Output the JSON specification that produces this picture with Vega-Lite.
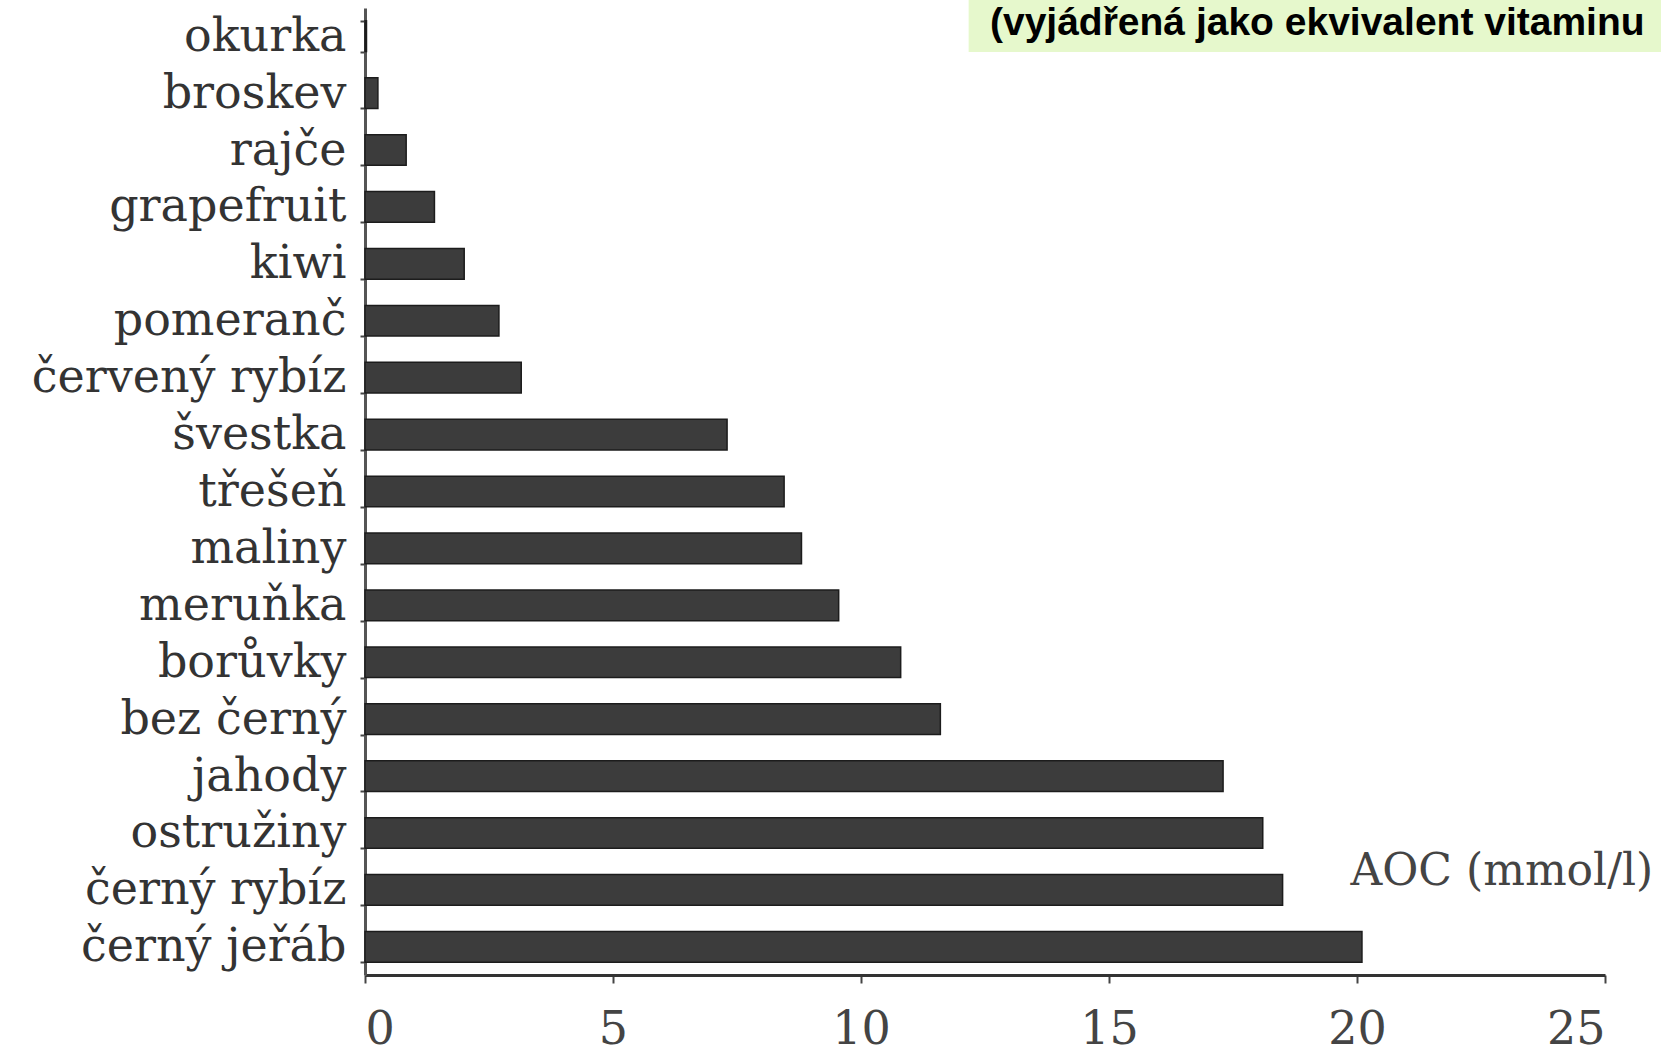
{
  "$schema": "https://vega.github.io/schema/vega-lite/v6.json",
  "autosize": {"type": "none"},
  "width": 1240,
  "height": 967,
  "padding": {"left": 365, "top": 8, "right": 56, "bottom": 78},
  "background": "white",
  "config": {"view": {"stroke": null}},
  "data": {
    "values": [
      {"plod": "okurka", "aoc": 0.03},
      {"plod": "broskev", "aoc": 0.26},
      {"plod": "rajče", "aoc": 0.83},
      {"plod": "grapefruit", "aoc": 1.4},
      {"plod": "kiwi", "aoc": 2.0},
      {"plod": "pomeranč", "aoc": 2.7},
      {"plod": "červený rybíz", "aoc": 3.15},
      {"plod": "švestka", "aoc": 7.3},
      {"plod": "třešeň", "aoc": 8.45},
      {"plod": "maliny", "aoc": 8.8},
      {"plod": "meruňka", "aoc": 9.55},
      {"plod": "borůvky", "aoc": 10.8},
      {"plod": "bez černý", "aoc": 11.6},
      {"plod": "jahody", "aoc": 17.3},
      {"plod": "ostružiny", "aoc": 18.1},
      {"plod": "černý rybíz", "aoc": 18.5},
      {"plod": "černý jeřáb", "aoc": 20.1}
    ]
  },
  "layer": [
    {
      "mark": {"type": "bar", "color": "#3c3c3c", "stroke": "#1c1c1c", "strokeWidth": 1.5},
      "encoding": {
        "y": {
          "field": "plod",
          "type": "nominal",
          "sort": null,
          "scale": {"paddingInner": 0.46, "paddingOuter": 0.225},
          "axis": {
            "title": null,
            "domainColor": "#555555",
            "domainWidth": 3,
            "ticks": true,
            "tickBand": "extent",
            "tickSize": 5,
            "tickWidth": 2,
            "tickColor": "#444444",
            "labelFont": "DejaVu Serif",
            "labelFontSize": 46,
            "labelColor": "#333333",
            "labelPadding": 14,
            "labelLimit": 600,
            "grid": false
          }
        },
        "x": {
          "field": "aoc",
          "type": "quantitative",
          "scale": {"domain": [0, 25], "nice": false},
          "axis": {
            "values": [0, 5, 10, 15, 20, 25],
            "grid": false,
            "domainColor": "#333333",
            "domainWidth": 3,
            "tickSize": 8,
            "tickWidth": 2,
            "tickColor": "#444444",
            "labelFont": "DejaVu Serif",
            "labelFontSize": 46,
            "labelColor": "#444444",
            "labelPadding": 24,
            "title": "AOC (mmol/l)",
            "titleFont": "DejaVu Serif",
            "titleFontSize": 44,
            "titleFontWeight": "normal",
            "titleColor": "#444444",
            "titleAlign": "left",
            "titleBaseline": "middle",
            "titleAnchor": "start",
            "titleX": 985,
            "titleY": -104
          }
        }
      }
    },
    {
      "data": {"values": [{"plod": "okurka", "x1": 12.17, "x2": 40}]},
      "mark": {"type": "bar", "color": "#e6f8cc", "clip": false, "height": {"band": 1.75}, "yOffset": -11},
      "encoding": {
        "y": {"field": "plod", "type": "nominal", "sort": null},
        "x": {"field": "x1", "type": "quantitative"},
        "x2": {"field": "x2"}
      }
    },
    {
      "data": {"values": [{"plod": "okurka", "x": 12.6, "t": "(vyjádřená jako ekvivalent vitaminu"}]},
      "mark": {"type": "text", "align": "left", "baseline": "middle", "font": "Liberation Sans Narrow, Liberation Sans, Arial", "fontWeight": "bold", "fontSize": 39, "color": "#000000", "yOffset": -13, "clip": false},
      "encoding": {
        "y": {"field": "plod", "type": "nominal", "sort": null},
        "x": {"field": "x", "type": "quantitative"},
        "text": {"field": "t"}
      }
    }
  ]
}
